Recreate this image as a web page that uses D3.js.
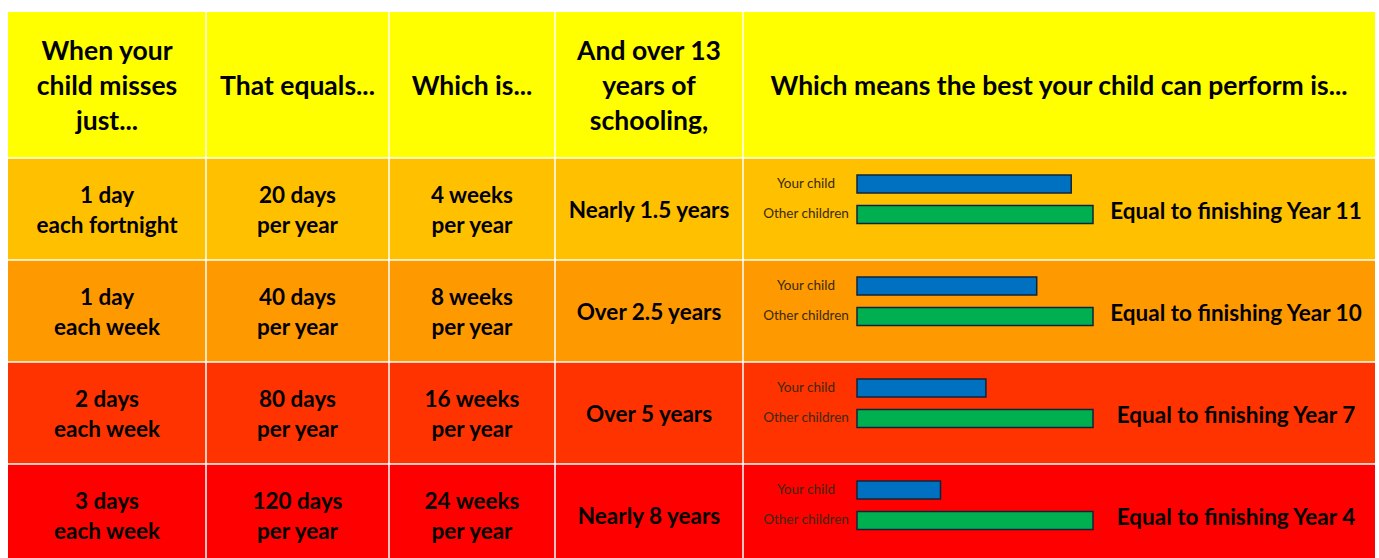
<!DOCTYPE html>
<html>
<head>
<meta charset="utf-8">
<script src="https://cdn.jsdelivr.net/npm/d3@7"></script>
<style>
  html, body { margin: 0; padding: 0; background: #ffffff; }
  svg { display: block; }
</style>
</head>
<body>
<div id="chart"></div>
<script>
// ---------------- DATA ----------------
const headers = [
  ["When your", "child misses", "just..."],
  ["That equals..."],
  ["Which is..."],
  ["And over 13", "years of", "schooling,"],
  ["Which means the best your child can perform is..."]
];
const missed = [
  ["1 day", "each fortnight"],
  ["1 day", "each week"],
  ["2 days", "each week"],
  ["3 days", "each week"]
];
const daysPerYear = [
  ["20 days", "per year"],
  ["40 days", "per year"],
  ["80 days", "per year"],
  ["120 days", "per year"]
];
const weeksPerYear = [
  ["4 weeks", "per year"],
  ["8 weeks", "per year"],
  ["16 weeks", "per year"],
  ["24 weeks", "per year"]
];
const overSchooling = ["Nearly 1.5 years", "Over 2.5 years", "Over 5 years", "Nearly 8 years"];
const outcomes = [
  "Equal to finishing Year 11",
  "Equal to finishing Year 10",
  "Equal to finishing Year 7",
  "Equal to finishing Year 4"
];
const seriesNames = ["Your child", "Other children"];
const yourChild = [11.8, 9.9, 7.1, 4.6];       // years
const otherChildren = [13, 13, 13, 13];        // full 13 years of schooling

// ---------------- STYLE / LAYOUT ----------------
const W = 1379, H = 558;
const headerColor = "#FFFF00";
const rowColors = ["#FFC000", "#FF9900", "#FF3300", "#FF0000"];
const barColors = {"Your child": "#0070C0", "Other children": "#00B050"};
const FONT = "Lato, 'Open Sans', sans-serif";

const colEdges = [8, 206, 389, 555, 743, 1375];
const tableTop = 12, headerBottom = 158, rowStep = 102;

const svg = d3.select("#chart").append("svg")
  .attr("width", W).attr("height", H)
  .style("font-family", FONT);

const rowIdx = d3.range(missed.length);
const yRow = d3.scaleBand().domain(rowIdx)
  .range([headerBottom, headerBottom + rowStep * rowIdx.length]).padding(0);

// header cells
const hdr = svg.append("g");
headers.forEach((lines, c) => {
  const x0 = colEdges[c], x1 = colEdges[c + 1];
  hdr.append("rect").attr("x", x0).attr("y", tableTop)
    .attr("width", x1 - x0).attr("height", headerBottom - tableTop)
    .attr("fill", headerColor);
  const cy = (tableTop + headerBottom) / 2;
  const lh = 35;
  const t = hdr.append("text")
    .attr("text-anchor", "middle")
    .attr("font-weight", 700).attr("font-size", 26.5).attr("fill", "#000");
  lines.forEach((ln, i) => {
    t.append("tspan").attr("x", (x0 + x1) / 2)
      .attr("y", cy + (i - (lines.length - 1) / 2) * lh)
      .attr("dy", "0.36em").text(ln);
  });
});

// body rows
const bodyCols = [missed, daysPerYear, weeksPerYear, overSchooling.map(d => [d])];
const body = svg.append("g");
rowIdx.forEach(r => {
  const top = yRow(r), h = yRow.bandwidth();
  const cy = top + h / 2;
  colEdges.slice(0, -1).forEach((x0, c) => {
    body.append("rect").attr("x", x0).attr("y", top)
      .attr("width", colEdges[c + 1] - x0).attr("height", h)
      .attr("fill", rowColors[r]);
  });
  bodyCols.forEach((col, c) => {
    const lines = col[r];
    const x0 = colEdges[c], x1 = colEdges[c + 1];
    const t = body.append("text").attr("text-anchor", "middle")
      .attr("font-weight", 700).attr("font-size", 22.5).attr("fill", "#000");
    lines.forEach((ln, i) => {
      t.append("tspan").attr("x", (x0 + x1) / 2)
        .attr("y", cy + 1 + (i - (lines.length - 1) / 2) * 30.5)
        .attr("dy", "0.36em").text(ln);
    });
  });
  // outcome text
  body.append("text").attr("text-anchor", "middle")
    .attr("x", 1236).attr("y", cy + 2).attr("dy", "0.36em")
    .attr("font-weight", 700).attr("font-size", 22.5).attr("fill", "#000")
    .text(outcomes[r]);
});

// mini bar charts
const x = d3.scaleLinear().domain([0, 13]).range([857, 1093]);
const yInner = d3.scaleBand().domain(seriesNames).range([17, 65.5]).paddingInner(0.41);
const bars = svg.append("g");
rowIdx.forEach(r => {
  const top = yRow(r);
  const vals = {"Your child": yourChild[r], "Other children": otherChildren[r]};
  seriesNames.forEach(s => {
    bars.append("rect")
      .attr("x", x(0)).attr("y", top + yInner(s))
      .attr("width", x(vals[s]) - x(0)).attr("height", yInner.bandwidth())
      .attr("fill", barColors[s])
      .attr("stroke", "#10233a").attr("stroke-width", 1.5);
    bars.append("text").attr("text-anchor", "middle")
      .attr("x", 806).attr("y", top + yInner(s) + yInner.bandwidth() / 2 - 1)
      .attr("dy", "0.36em")
      .attr("font-size", 13.5).attr("fill", "#3a2a10")
      .text(s);
  });
});

// white grid lines
const grid = svg.append("g").attr("stroke", "#ffffff").attr("stroke-width", 1.5);
colEdges.slice(1, -1).forEach(xv => {
  grid.append("line").attr("x1", xv).attr("x2", xv).attr("y1", tableTop).attr("y2", H);
});
[headerBottom, ...rowIdx.slice(1).map(r => yRow(r))].forEach(yv => {
  grid.append("line").attr("x1", colEdges[0]).attr("x2", colEdges[colEdges.length - 1])
    .attr("y1", yv).attr("y2", yv);
});
</script>
</body>
</html>
